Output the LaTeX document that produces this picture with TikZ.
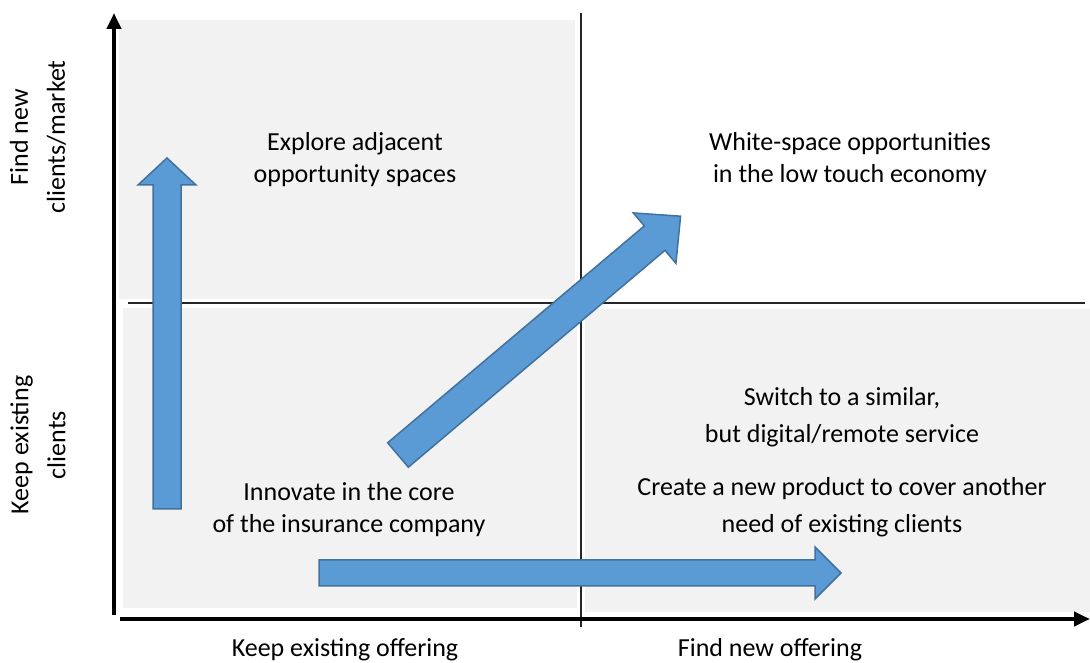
\documentclass[tikz,border=0pt]{standalone}
\usepackage{fontspec}
\setmainfont{Carlito}
\usetikzlibrary{arrows.meta, positioning}
\definecolor{quadgray}{HTML}{F2F2F2}
\definecolor{arrowblue}{HTML}{5B9BD5}
\definecolor{arrowedge}{HTML}{41719C}

\begin{document}
\begin{tikzpicture}[x=1pt,y=1pt,>={Triangle[length=16pt,width=14pt]},node distance=90pt]
	\tikzset{quad/.style={fill=quadgray},
		divider/.style={draw=black!85,line width=1.2pt},
		axis/.style={draw=black,line width=4pt},
		blockarrow/.style={fill=arrowblue,draw=arrowedge,line width=1.5pt,line join=miter},
		quadtext/.style={align=center,inner sep=0pt,font=\fontsize{26}{32}\selectfont},
		axistext/.style={align=center,inner sep=0pt,font=\fontsize{26}{37}\selectfont}}
	\useasboundingbox (0,0) rectangle (1090,663);
	\fill[quad] (119,364) rectangle (575,643);
	\fill[quad] (123,55) rectangle (577,355);
	\fill[quad] (585,51) rectangle (1090,354);
	\coordinate (vtop) at (581,650);
	\coordinate (vbot) at (581,36);
	\coordinate (hleft) at (128,360);
	\coordinate (hright) at (1085,360);
	\coordinate (ybot) at (114,48);
	\coordinate (ytop) at (114,650);
	\coordinate (xleft) at (120,44);
	\coordinate (xright) at (1090,44);
	\draw[divider] (vtop) -- (vbot);
	\draw[divider] (hleft) -- (hright);
	\draw[axis,->] (ybot) -- (ytop);
	\draw[axis,->] (xleft) -- (xright);
	\draw[blockarrow] (153,154) -- (181,154) -- (181,478) -- (196,478) -- (167,505) -- (138,478) -- (153,478) -- cycle;
	\draw[blockarrow] (319,77) -- (815,77) -- (815,64) -- (841,90) -- (815,116) -- (815,103) -- (319,103) -- cycle;
	\begin{scope}[shift={(398,208)},rotate=40.2]
		\draw[blockarrow] (0,-16) -- (336,-16) -- (336,-33) -- (370,0) -- (336,33) -- (336,16) -- (0,16) -- cycle;
	\end{scope}
	\node[quadtext] (adjacent) at (355,503) {Explore adjacent\\opportunity spaces};
	\node[quadtext] (whitespace) at (850,503) {White-space opportunities\\in the low touch economy};
	\node[quadtext] (core) at (349,153) {Innovate in the core\\of the insurance company};
	\node[axistext] (switch) at (842,246) {Switch to a similar,\\but digital/remote service};
	\node[axistext] (newproduct) [below of=switch] {Create a new product to cover another\\need of existing clients};
	\node[axistext] (keepoffer) at (345,13) {Keep existing offering};
	\node[axistext] (newoffer) at (770,13) {Find new offering};
	\node[axistext,rotate=90] (newclients) at (38,526) {Find new\\clients/market};
	\node[axistext,rotate=90] (keepclients) at (38,218) {Keep existing\\clients};
\end{tikzpicture}
\end{document}
